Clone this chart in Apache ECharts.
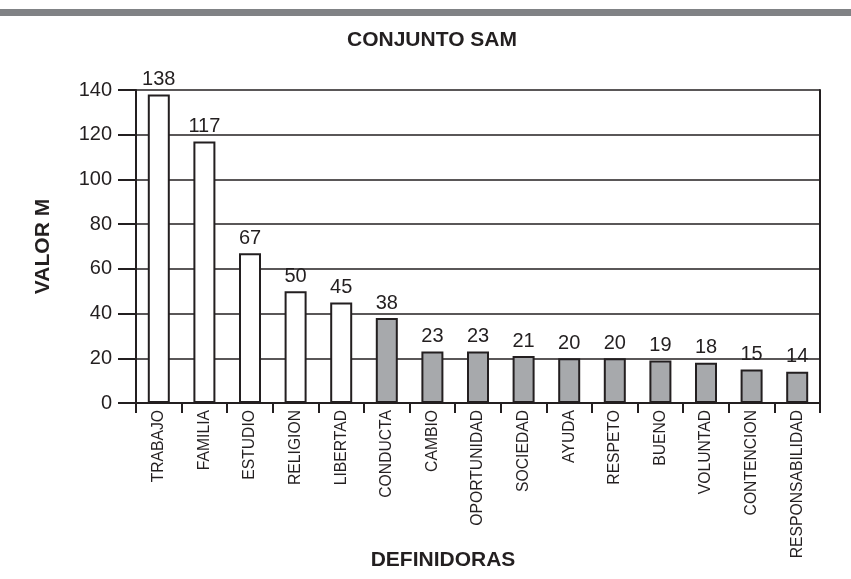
<!DOCTYPE html>
<html>
  <head>
    <meta charset="utf-8" />
    <script src="https://cdn.jsdelivr.net/npm/echarts@6/dist/echarts.min.js"></script>
  </head>
  <body>
    <style>
      html, body { margin: 0; padding: 0; background: #fff; }
      #main { width: 851px; height: 579px; }
    </style>
    <div id="main"></div>
    <script type="text/javascript">
      // datos del gráfico
      var categorias = ['TRABAJO', 'FAMILIA', 'ESTUDIO', 'RELIGION', 'LIBERTAD', 'CONDUCTA', 'CAMBIO',
        'OPORTUNIDAD', 'SOCIEDAD', 'AYUDA', 'RESPETO', 'BUENO', 'VOLUNTAD', 'CONTENCION', 'RESPONSABILIDAD'];
      var valores = [138, 117, 67, 50, 45, 38, 23, 23, 21, 20, 20, 19, 18, 15, 14];
      // las primeras 5 van en blanco, el resto en gris
      var grupo = [0, 0, 0, 0, 0, 1, 1, 1, 1, 1, 1, 1, 1, 1, 1];
      var yTicks = [0, 20, 40, 60, 80, 100, 120, 140];

      var negro = '#231f20';
      var colores = ['#ffffff', '#a7a9ac'];
      var fuente = 'Liberation Sans, Arial, sans-serif';

      var myChart = echarts.init(document.getElementById('main'));

      var option = {
        animation: false,
        textStyle: { fontFamily: fuente, color: negro },
        graphic: [
          { type: 'rect', shape: { x: 0, y: 9, width: 851, height: 7 }, style: { fill: '#808285' } }
        ],
        title: {
          text: 'CONJUNTO SAM',
          left: 432,
          textAlign: 'center',
          top: 30,
          padding: 0,
          textStyle: { fontSize: 21, fontWeight: 'bold', color: negro, fontFamily: fuente }
        },
        grid: { left: 136, right: 31, top: 90, bottom: 176, containLabel: false, outerBoundsMode: 'none' },
        xAxis: {
          type: 'category',
          data: categorias,
          name: 'DEFINIDORAS',
          nameLocation: 'middle',
          nameGap: 147,
          nameMoveOverlap: false,
          nameTextStyle: { fontSize: 21, fontWeight: 'bold', color: negro, fontFamily: fuente, padding: [0, 70, 0, 0] },
          axisLine: { show: true, lineStyle: { color: negro, width: 2 } },
          axisTick: { show: true, length: 10, interval: 0, lineStyle: { color: negro, width: 2 } },
          axisLabel: {
            interval: 0,
            rotate: 90,
            margin: 7,
            fontSize: 15.7,
            fontFamily: fuente,
            color: negro
          }
        },
        yAxis: [
          {
            type: 'value',
            min: yTicks[0],
            max: yTicks[yTicks.length - 1],
            interval: yTicks[1] - yTicks[0],
            name: 'VALOR M',
            nameLocation: 'middle',
            nameGap: 82,
            nameRotate: 90,
            nameTextStyle: { fontSize: 21, fontWeight: 'bold', color: negro, fontFamily: fuente },
            axisLine: { show: true, lineStyle: { color: negro, width: 2 } },
            axisTick: { show: true, length: 18, lineStyle: { color: negro, width: 2 } },
            axisLabel: { margin: 24, fontSize: 20, color: negro, fontFamily: fuente },
            splitLine: { show: true, lineStyle: { color: negro, width: 1.6 } }
          },
          {
            type: 'value',
            position: 'right',
            min: yTicks[0],
            max: yTicks[yTicks.length - 1],
            interval: yTicks[1] - yTicks[0],
            axisLine: { show: true, lineStyle: { color: negro, width: 2 } },
            axisTick: { show: false },
            axisLabel: { show: false },
            splitLine: { show: false }
          }
        ],
        series: [
          {
            type: 'bar',
            barWidth: 22,
            data: valores.map(function (v, i) {
              return { value: v, itemStyle: { color: colores[grupo[i]] } };
            }),
            itemStyle: { borderColor: negro, borderWidth: 2 },
            label: {
              show: true,
              position: 'top',
              distance: 5,
              fontSize: 20,
              color: negro,
              fontFamily: fuente
            }
          }
        ]
      };

      myChart.setOption(option);
    </script>
  </body>
</html>
